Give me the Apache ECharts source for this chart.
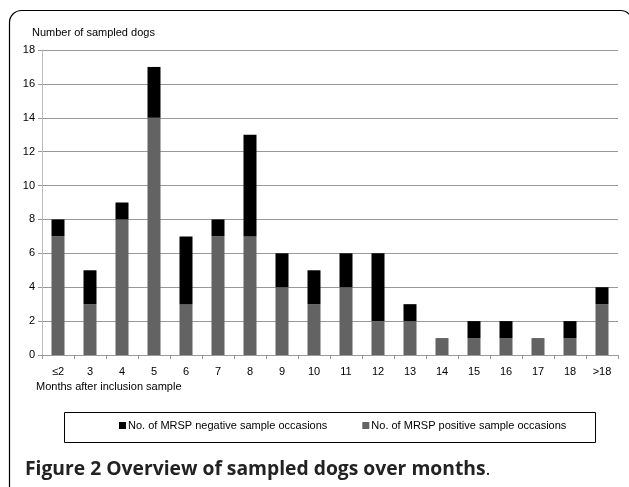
<!DOCTYPE html>
<html><head><meta charset="utf-8">
<script src="https://cdn.jsdelivr.net/npm/echarts@6/dist/echarts.min.js"></script>
<style>html,body{margin:0;padding:0;background:#fff}#c{width:629px;height:487px}</style>
</head><body><div id="c"></div>
<script>
const categories = ['≤2','3','4','5','6','7','8','9','10','11','12','13','14','15','16','17','18','>18'];
const positive = [7,3,8,14,3,7,7,4,3,4,2,2,1,1,1,1,1,3];
const negative = [1,2,1,3,4,1,6,2,2,2,4,1,0,1,1,0,1,1];
const yTicks = {min:0, max:18, interval:2};
const chart = echarts.init(document.getElementById('c'), null, {renderer:'canvas'});
const F = 'Liberation Sans, Arial, sans-serif';
chart.setOption({
  animation:false,
  backgroundColor:'#fff',
  grid:{left:42, right:11, top:50, bottom:132, containLabel:false},
  xAxis:{type:'category', data:categories,
    axisLine:{lineStyle:{color:'#999', width:1}},
    axisTick:{show:true, length:4, lineStyle:{color:'#999'}},
    axisLabel:{color:'#000', fontFamily:F, fontSize:11, margin:11},
    name:'Months after inclusion sample', nameLocation:'start',
    nameTextStyle:{color:'#000', fontFamily:F, fontSize:11, align:'left', verticalAlign:'top', padding:[26,0,0,-6]},
    nameGap:0
  },
  yAxis:{type:'value', min:yTicks.min, max:yTicks.max, interval:yTicks.interval,
    axisLine:{show:true, lineStyle:{color:'#bbb', width:1}},
    axisTick:{show:true, length:4, lineStyle:{color:'#999'}},
    splitLine:{lineStyle:{color:'#999', width:1}},
    axisLabel:{color:'#000', fontFamily:F, fontSize:11, margin:7},
    name:'Number of sampled dogs', nameLocation:'end',
    nameTextStyle:{color:'#000', fontFamily:F, fontSize:11, align:'left', padding:[0,0,4,-10]},
    nameGap:8
  },
  legend:{
    data:['No. of MRSP negative sample occasions','No. of MRSP positive sample occasions'],
    left:119, top:420, padding:0,
    itemWidth:7, itemHeight:7, itemGap:35, icon:'rect',
    textStyle:{fontFamily:F, fontSize:11, color:'#000', padding:[0,0,0,-3]}
  },
  series:[
    {name:'No. of MRSP positive sample occasions', type:'bar', stack:'s', data:positive, barWidth:13,
      itemStyle:{color:'#636363'}},
    {name:'No. of MRSP negative sample occasions', type:'bar', stack:'s', data:negative, barWidth:13,
      itemStyle:{color:'#000'}}
  ],
  graphic:[
    {type:'rect', shape:{x:9.5, y:10.5, width:623, height:520, r:12},
     style:{stroke:'#000', lineWidth:1.2, fill:'transparent'}, silent:true, z:-1},
    {type:'rect', shape:{x:64.5, y:412.5, width:531, height:30},
     style:{stroke:'#000', lineWidth:1, fill:'transparent'}, silent:true},
    {type:'text', left:25, top:460, style:{
      text:'{b|Figure 2 Overview of sampled dogs over months}{n|.}',
      rich:{b:{font:'bold 19.3px "Open Sans", "DejaVu Sans", sans-serif', fill:'#222'},
            n:{font:'19px "Open Sans", "DejaVu Sans", sans-serif', fill:'#222'}}}}
  ]
});
</script></body></html>
